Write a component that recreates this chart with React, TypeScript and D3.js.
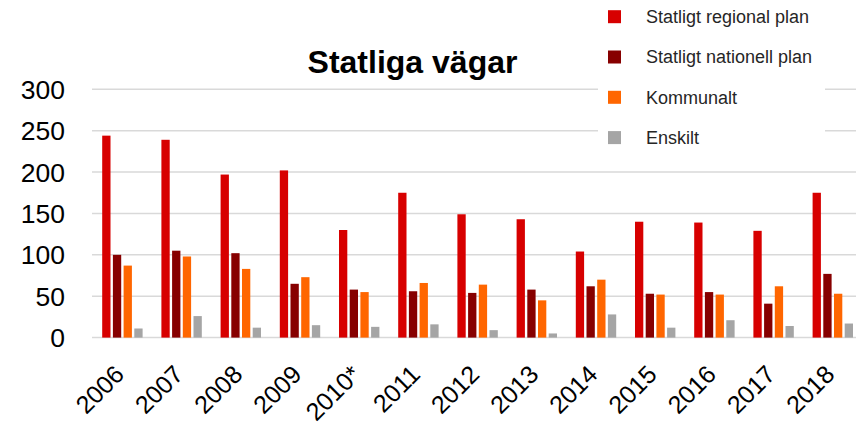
import React from "react";
import * as d3 from "d3";

const years = ["2006", "2007", "2008", "2009", "2010*", "2011", "2012", "2013", "2014", "2015", "2016", "2017", "2018"];
const seriesNames = ["Statligt regional plan", "Statligt nationell plan", "Kommunalt", "Enskilt"];
const regional = [244, 239, 197, 202, 130, 175, 149, 143, 104, 140, 139, 129, 175];
const nationell = [100, 105, 102, 65, 58, 56, 54, 58, 62, 53, 55, 41, 77];
const kommunalt = [87, 98, 83, 73, 55, 66, 64, 45, 70, 52, 52, 62, 53];
const enskilt = [11, 26, 12, 15, 13, 16, 9, 5, 28, 12, 21, 14, 17];
const yTicks = [0, 50, 100, 150, 200, 250, 300];
const colors = ["#d70000", "#870000", "#ff6600", "#a5a5a5"];
const title = "Statliga vägar";

const W = 856;
const H = 424;

export default function App() {
  const allSeries = [regional, nationell, kommunalt, enskilt];
  const x0 = d3.scaleBand<string>().domain(years).range([94, 94 + 13 * 59.2]).padding(0);
  const x1 = d3.scaleBand<string>().domain(seriesNames).range([8.2, 48.6]).paddingInner(0.224).paddingOuter(0);
  const y = d3.scaleLinear().domain([0, 300]).range([337.6, 89.3]);

  return (
    <svg width={W} height={H} style={{ position: "absolute", left: 0, top: 0, background: "#fff" }} fontFamily="'Liberation Sans', Arial, sans-serif">
      <rect x={0} y={0} width={W} height={H} fill="#fff" />
      {yTicks.map((t) => (
        <g key={t}>
          <line x1={92} x2={W} y1={y(t)} y2={y(t)} stroke="#d9d9d9" strokeWidth={1.5} />
          <text x={65} y={y(t)} dy="0.36em" textAnchor="end" fontSize={26.5} fill="#000">{t}</text>
        </g>
      ))}
      {years.map((yr, i) => (
        <g key={yr} transform={`translate(${x0(yr)},0)`}>
          {seriesNames.map((s, j) => (
            <rect key={s} x={x1(s)} width={x1.bandwidth()} y={y(allSeries[j][i])} height={y(0) - y(allSeries[j][i])} fill={colors[j]} />
          ))}
        </g>
      ))}
      {years.map((yr) => {
        const cx = (x0(yr) as number) + x0.bandwidth() / 2 + 2;
        return (
          <text key={yr} transform={`translate(${cx},376) rotate(-45)`} textAnchor="end" fontSize={25} fill="#000">{yr}</text>
        );
      })}
      <text x={412.5} y={72.5} textAnchor="middle" fontSize={32} fontWeight="bold" fill="#000">{title}</text>
      <rect x={598} y={0} width={227} height={152} fill="#fff" />
      {seriesNames.map((s, j) => {
        const cy = 16.7 + j * 40.3;
        return (
          <g key={s}>
            <rect x={608} y={cy - 6.5} width={13} height={13} fill={colors[j]} />
            <text x={646} y={cy} dy="0.36em" fontSize={18} fill="#262626">{s}</text>
          </g>
        );
      })}
    </svg>
  );
}
